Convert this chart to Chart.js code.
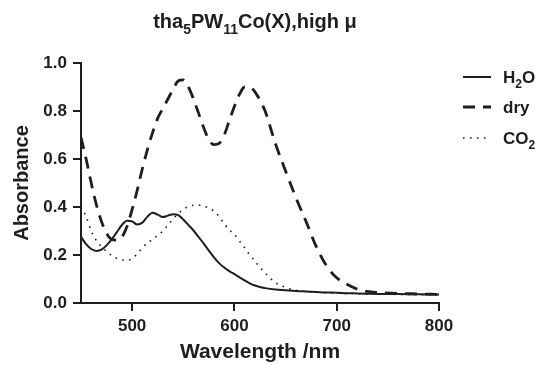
<!DOCTYPE html>
<html>
<head>
<meta charset="utf-8">
<script src="https://cdn.jsdelivr.net/npm/chart.js@4.4.1/dist/chart.umd.min.js"></script>
<style>
  html, body { margin: 0; padding: 0; background: #fff; }
  #wrap { width: 541px; height: 365px; }
</style>
</head>
<body>
<div id="wrap"><canvas id="chart" width="541" height="365"></canvas></div>
<script>
// wavelength grid (nm) shared by the three spectra
const wavelengths = [450, 455, 460, 465, 470, 475, 480, 485, 490, 495, 500, 505, 510, 515, 520, 525, 530, 535, 540, 545,
  550, 555, 560, 565, 570, 575, 580, 585, 590, 595, 600, 605, 610, 615, 620, 625, 630, 640, 650, 660,
  670, 680, 690, 700, 710, 720, 730, 740, 760, 780, 800];

const h2o = [0.276, 0.245, 0.225, 0.217, 0.222, 0.240, 0.265, 0.295, 0.325, 0.343, 0.340, 0.327, 0.335, 0.360, 0.376, 0.368, 0.358, 0.364, 0.370, 0.366,
  0.348, 0.325, 0.302, 0.275, 0.247, 0.218, 0.190, 0.166, 0.148, 0.133, 0.120, 0.107, 0.094, 0.082, 0.073, 0.067, 0.062, 0.056, 0.053, 0.050,
  0.048, 0.046, 0.044, 0.043, 0.041, 0.040, 0.039, 0.038, 0.037, 0.036, 0.035];

const dry = [0.69, 0.60, 0.50, 0.41, 0.34, 0.29, 0.265, 0.262, 0.275, 0.32, 0.39, 0.47, 0.56, 0.64, 0.71, 0.77, 0.81, 0.85, 0.89, 0.925,
  0.93, 0.90, 0.85, 0.79, 0.73, 0.68, 0.66, 0.665, 0.70, 0.76, 0.82, 0.87, 0.90, 0.90, 0.88, 0.845, 0.80, 0.665, 0.55, 0.44,
  0.34, 0.235, 0.155, 0.105, 0.078, 0.058, 0.048, 0.044, 0.040, 0.038, 0.036];

const co2 = [0.40, 0.36, 0.30, 0.26, 0.235, 0.215, 0.198, 0.186, 0.179, 0.178, 0.185, 0.205, 0.23, 0.25, 0.265, 0.283, 0.30, 0.325, 0.35, 0.372,
  0.39, 0.402, 0.407, 0.408, 0.404, 0.395, 0.383, 0.36, 0.33, 0.305, 0.285, 0.258, 0.23, 0.20, 0.175, 0.148, 0.125, 0.085, 0.065, 0.053,
  0.048, 0.045, 0.043, 0.041, 0.040, 0.039, 0.038, 0.037, 0.036, 0.035, 0.034];

const xTicks = [500, 600, 700, 800];
const yTicks = [0, 0.2, 0.4, 0.6, 0.8, 1.0];

// text pieces, true = subscript
const titleParts = [['tha', false], ['5', true], ['PW', false], ['11', true], ['Co(X),high \u03bc', false]];
const legendNames = [
  [['H', false], ['2', true], ['O', false]],
  [['dry', false]],
  [['CO', false], ['2', true]]
];

const ink = '#1e1e1e';
const family = '"Liberation Sans", Arial, Helvetica, sans-serif';

function partFont(size, sub) {
  return 'bold ' + (sub ? Math.round(size * 0.7) : size) + 'px ' + family;
}

function drawParts(ctx, parts, x, y, size, center) {
  let total = 0;
  parts.forEach(([t, sub]) => {
    ctx.font = partFont(size, sub);
    total += ctx.measureText(t).width;
  });
  let cx = center ? x - total / 2 : x;
  parts.forEach(([t, sub]) => {
    ctx.font = partFont(size, sub);
    ctx.fillText(t, cx, sub ? y + size * 0.28 : y);
    cx += ctx.measureText(t).width;
  });
}

const textPlugin = {
  id: 'textPlugin',
  afterDraw(chart) {
    const ctx = chart.ctx;
    ctx.save();
    ctx.fillStyle = ink;
    ctx.textBaseline = 'alphabetic';
    ctx.textAlign = 'left';
    drawParts(ctx, titleParts, 255, 28, 20, true);

    // legend at the right of the plot
    const rows = [77, 107, 138];
    chart.data.datasets.forEach((ds, i) => {
      const y = rows[i];
      ctx.beginPath();
      ctx.strokeStyle = ds.borderColor;
      ctx.lineWidth = ds.borderWidth;
      ctx.setLineDash(ds.borderDash || []);
      ctx.moveTo(463, y);
      ctx.lineTo(491, y);
      ctx.stroke();
      ctx.setLineDash([]);
      drawParts(ctx, legendNames[i], 503, y + 6, 17, false);
    });
    ctx.restore();
  }
};

function pts(values) {
  return wavelengths.map((w, i) => ({ x: w, y: values[i] }));
}

const tickFont = { family: family, size: 17, weight: 'bold' };

new Chart(document.getElementById('chart'), {
  type: 'line',
  data: {
    datasets: [
      { label: 'H2O', data: pts(h2o), borderColor: ink, borderWidth: 2, pointRadius: 0, cubicInterpolationMode: 'monotone' },
      { label: 'dry', data: pts(dry), borderColor: ink, borderWidth: 2.8, borderDash: [12, 8], pointRadius: 0, cubicInterpolationMode: 'monotone' },
      { label: 'CO2', data: pts(co2), borderColor: ink, borderWidth: 1.6, borderDash: [1.6, 5.4], pointRadius: 0, cubicInterpolationMode: 'monotone' }
    ]
  },
  options: {
    responsive: false,
    animation: false,
    layout: { padding: { top: 63, right: 102, left: 0, bottom: 0 } },
    plugins: {
      legend: { display: false },
      title: { display: false },
      tooltip: { enabled: false }
    },
    scales: {
      x: {
        type: 'linear',
        min: 450,
        max: 800,
        afterBuildTicks: s => { s.ticks = xTicks.map(v => ({ value: v })); },
        afterFit: s => { s.height = 62; },
        ticks: { font: tickFont, color: ink, padding: 5, maxRotation: 0 },
        grid: { drawOnChartArea: false, drawTicks: true, tickLength: 8, color: ink, lineWidth: 2 },
        border: { color: ink, width: 2 },
        title: { display: true, text: 'Wavelength /nm', color: ink, font: { family: family, size: 21, weight: 'bold' }, padding: { top: 0, bottom: 0 } }
      },
      y: {
        min: 0,
        max: 1.0,
        afterBuildTicks: s => { s.ticks = yTicks.map(v => ({ value: v })); },
        afterFit: s => { s.width = 81; },
        ticks: { font: tickFont, color: ink, padding: 6, callback: v => v.toFixed(1) },
        grid: { drawOnChartArea: false, drawTicks: true, tickLength: 8, color: ink, lineWidth: 2 },
        border: { color: ink, width: 2 },
        title: { display: true, text: 'Absorbance', color: ink, font: { family: family, size: 20, weight: 'bold' }, padding: { top: 10, bottom: 0 } }
      }
    }
  },
  plugins: [textPlugin]
});
</script>
</body>
</html>
